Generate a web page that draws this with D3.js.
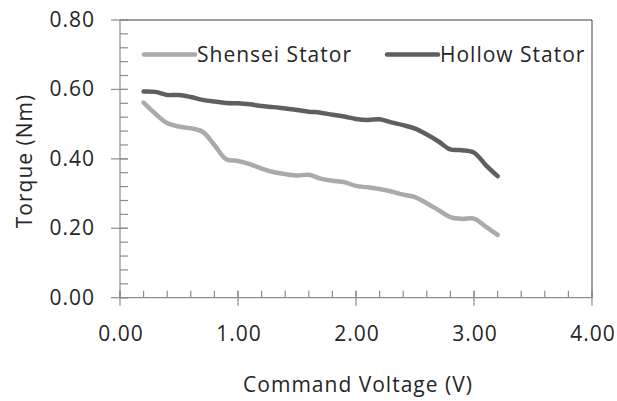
<!DOCTYPE html>
<html>
<head>
<meta charset="utf-8">
<script src="https://cdn.jsdelivr.net/npm/d3@7"></script>
<style>
body { margin: 0; background: #fff; }
text { font-family: "Open Sans", sans-serif; fill: #262626; letter-spacing: 1px; }
</style>
</head>
<body>
<svg width="617" height="401"></svg>
<script>
var voltage = [0.2,0.3,0.4,0.5,0.6,0.7,0.8,0.9,1.0,1.1,1.2,1.3,1.4,1.5,1.6,1.7,1.8,1.9,2.0,2.1,2.2,2.3,2.4,2.5,2.6,2.7,2.8,2.9,3.0,3.1,3.2];
var shensei = [0.562,0.530,0.503,0.493,0.488,0.478,0.440,0.399,0.394,0.385,0.372,0.362,0.356,0.352,0.354,0.343,0.337,0.333,0.322,0.318,0.313,0.306,0.297,0.290,0.272,0.252,0.232,0.227,0.228,0.205,0.181];
var hollow = [0.594,0.593,0.584,0.584,0.578,0.570,0.565,0.561,0.560,0.557,0.552,0.549,0.545,0.541,0.536,0.533,0.527,0.522,0.515,0.512,0.514,0.505,0.497,0.487,0.470,0.450,0.427,0.425,0.418,0.382,0.350];
var seriesNames = ["Shensei Stator", "Hollow Stator"];
var seriesColors = ["#aaaaaa", "#5f5f5f"];
var xTicks = [0,1,2,3,4];
var yTicks = [0,0.2,0.4,0.6,0.8];

var svg = d3.select("svg");
var mLeft = 120, mRight = 592, mTop = 20, mBottom = 297.7;

var x = d3.scaleLinear().domain([0,4]).range([mLeft,mRight]);
var y = d3.scaleLinear().domain([0,0.8]).range([mBottom,mTop]);

// frame top / right
svg.append("line").attr("x1",mLeft).attr("x2",mRight).attr("y1",mTop).attr("y2",mTop)
  .attr("stroke","#404040").attr("stroke-width",1);
svg.append("line").attr("x1",mRight).attr("x2",mRight).attr("y1",mTop).attr("y2",mBottom)
  .attr("stroke","#404040").attr("stroke-width",1);

var axisColor = "#8c8c8c";

// x axis
var gx = svg.append("g");
gx.append("line").attr("x1",mLeft).attr("x2",mRight).attr("y1",mBottom).attr("y2",mBottom)
  .attr("stroke",axisColor).attr("stroke-width",1.2);
gx.selectAll(".minor").data(d3.range(0,4.001,0.2)).enter().append("line")
  .attr("x1",function(d){return x(d);}).attr("x2",function(d){return x(d);})
  .attr("y1",mBottom-7).attr("y2",mBottom)
  .attr("stroke",axisColor).attr("stroke-width",1.2);
gx.selectAll(".major").data(xTicks).enter().append("line")
  .attr("x1",function(d){return x(d);}).attr("x2",function(d){return x(d);})
  .attr("y1",mBottom-7).attr("y2",mBottom+8)
  .attr("stroke",axisColor).attr("stroke-width",1.2);
gx.selectAll("text").data(xTicks).enter().append("text")
  .attr("x",function(d){return x(d)+1;}).attr("y",mBottom+43)
  .attr("text-anchor","middle").attr("font-size",21)
  .text(function(d){return d3.format(".2f")(d);});

// y axis
var gy = svg.append("g");
gy.append("line").attr("x1",mLeft).attr("x2",mLeft).attr("y1",mTop).attr("y2",mBottom)
  .attr("stroke",axisColor).attr("stroke-width",1.2);
gy.selectAll(".minor").data(d3.range(0,0.801,0.04)).enter().append("line")
  .attr("x1",mLeft).attr("x2",mLeft+8)
  .attr("y1",function(d){return y(d);}).attr("y2",function(d){return y(d);})
  .attr("stroke",axisColor).attr("stroke-width",1.2);
gy.selectAll(".major").data(yTicks).enter().append("line")
  .attr("x1",mLeft-9).attr("x2",mLeft+8)
  .attr("y1",function(d){return y(d);}).attr("y2",function(d){return y(d);})
  .attr("stroke",axisColor).attr("stroke-width",1.2);
gy.selectAll("text").data(yTicks).enter().append("text")
  .attr("x",mLeft-25).attr("y",function(d){return y(d)+7;})
  .attr("text-anchor","end").attr("font-size",21)
  .text(function(d){return d3.format(".2f")(d);});

// titles
svg.append("text").attr("x",358).attr("y",392).attr("text-anchor","middle")
  .attr("font-size",21).text("Command Voltage (V)");
svg.append("text").attr("transform","translate(32,161) rotate(-90)")
  .attr("text-anchor","middle").attr("font-size",21).text("Torque (Nm)");

// lines
var line = d3.line()
  .x(function(d){return x(d[0]);})
  .y(function(d){return y(d[1]);})
  .curve(d3.curveCatmullRom);

[shensei, hollow].forEach(function(vals, i) {
  svg.append("path")
    .datum(voltage.map(function(v, j){ return [v, vals[j]]; }))
    .attr("fill","none").attr("stroke",seriesColors[i])
    .attr("stroke-width",4.5).attr("stroke-linecap","round").attr("stroke-linejoin","round")
    .attr("d", line);
});

// legend
var legendX = [144, 387];
seriesNames.forEach(function(name, i) {
  svg.append("line").attr("x1",legendX[i]).attr("x2",legendX[i]+51)
    .attr("y1",54.5).attr("y2",54.5)
    .attr("stroke",seriesColors[i]).attr("stroke-width",4.5).attr("stroke-linecap","round");
  svg.append("text").attr("x",legendX[i]+53).attr("y",62)
    .attr("font-size",21).text(name);
});
</script>
</body>
</html>
